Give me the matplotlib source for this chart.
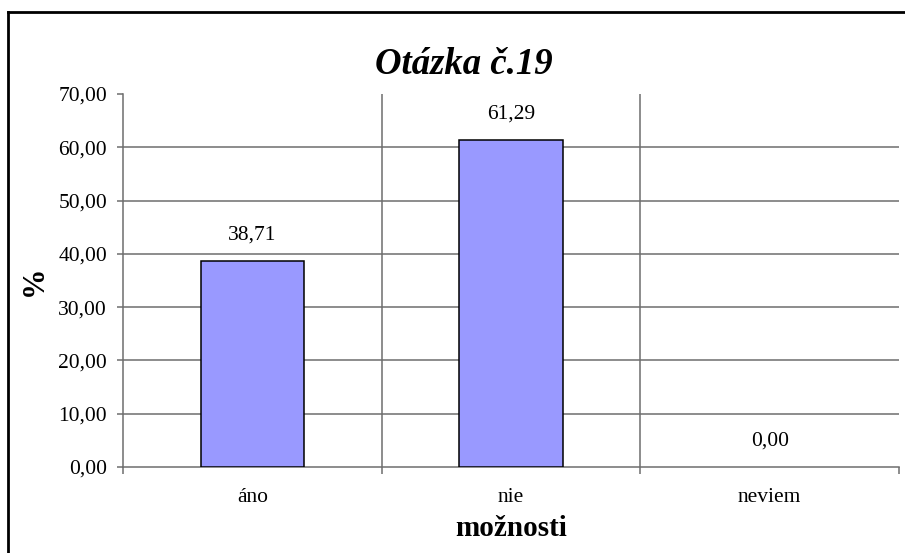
import matplotlib
matplotlib.use("Agg")
import matplotlib.pyplot as plt
from matplotlib.lines import Line2D

categories = ["áno", "nie", "neviem"]
values = [38.71, 61.29, 0.00]
y_ticks = [0, 10, 20, 30, 40, 50, 60, 70]

title = "Otázka č.19"
x_label = "možnosti"
y_label = "%"

SERIF = ["Liberation Serif", "DejaVu Serif"]
GRID = "#6e6e6e"
BAR = "#9999ff"
TICK_FS = 15.5


def comma(v):
    return f"{v:.2f}".replace(".", ",")


plt.rcParams["font.family"] = SERIF

fig = plt.figure(figsize=(9.05, 5.53), dpi=100)
ax = fig.add_axes([123 / 905, 1 - 467 / 553, (899 - 123) / 905, (467 - 94) / 553])

xs = list(range(len(categories)))
bars = ax.bar(xs, values, width=0.4, color=BAR, edgecolor="black", linewidth=1.1, zorder=3)
# a zero-height bar leaves no visible outline on the axis
for b, v in zip(bars, values):
    if v == 0:
        b.set_linewidth(0)
ax.bar_label(bars, labels=[comma(v) for v in values], padding=12, fontsize=TICK_FS, zorder=4)

ax.set_xlim(-0.5, len(categories) - 0.5)
ax.set_ylim(y_ticks[0], y_ticks[-1])

# y axis
ax.set_yticks(y_ticks)
ax.set_yticklabels([comma(t) for t in y_ticks], fontsize=TICK_FS)
ax.tick_params(axis="y", direction="out", length=4.5, width=1.1, color=GRID, pad=7)

# x axis: labels at category centres, tick marks on the boundaries
ax.set_xticks(xs)
ax.set_xticklabels(categories, fontsize=TICK_FS)
ax.set_xticks([x - 0.5 for x in xs] + [xs[-1] + 0.5], minor=True)
ax.tick_params(axis="x", which="major", length=0, pad=15)
ax.tick_params(axis="x", which="minor", direction="out", length=5, width=1.1, color=GRID)

for s in ("top", "right"):
    ax.spines[s].set_visible(False)
for s in ("left", "bottom"):
    ax.spines[s].set_color(GRID)
    ax.spines[s].set_linewidth(1.1)

# horizontal gridlines between the axis and the top
for t in y_ticks[1:-1]:
    ax.axhline(t, color=GRID, linewidth=1.1, zorder=1)
# vertical gridlines at inner category boundaries
for x in xs[:-1]:
    ax.axvline(x + 0.5, color=GRID, linewidth=1.1, zorder=1)

ax.set_xlabel(x_label, fontsize=21, fontweight="bold", labelpad=6)
ax.set_ylabel(y_label, fontsize=22, fontweight="bold", labelpad=7)

fig.text(464 / 905, 1 - 74 / 553, title, fontsize=26.5, fontweight="bold",
         fontstyle="italic", ha="center", va="baseline")

# chart frame
fig.add_artist(Line2D([8 / 905, 8 / 905], [0, 1 - 12 / 553], transform=fig.transFigure,
                      color="black", linewidth=2.0))
fig.add_artist(Line2D([8 / 905, 1], [1 - 12 / 553, 1 - 12 / 553], transform=fig.transFigure,
                      color="black", linewidth=2.0))

fig.savefig("out.png", dpi=100)
